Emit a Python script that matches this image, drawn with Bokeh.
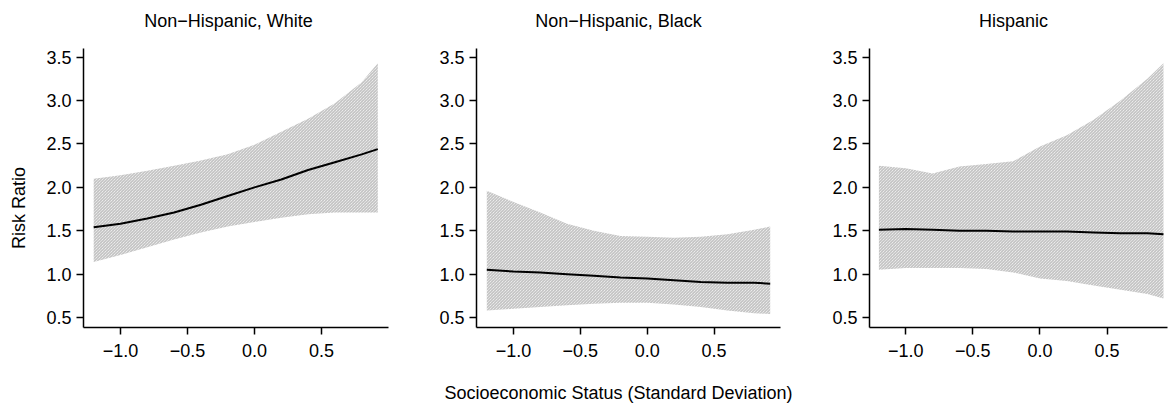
from bokeh.plotting import figure
from bokeh.layouts import row
from bokeh.models import FixedTicker, CustomJSTickFormatter, Range1d, LinearAxis
from bokeh.embed import file_html
from bokeh.resources import INLINE

# ---- data ----
ses = [-1.2, -1.0, -0.8, -0.6, -0.4, -0.2, 0.0, 0.2, 0.4, 0.6, 0.8, 0.92]
panel_titles = ["Non\u2212Hispanic, White", "Non\u2212Hispanic, Black", "Hispanic"]

white_rr = [1.54, 1.58, 1.64, 1.71, 1.80, 1.90, 2.00, 2.09, 2.20, 2.29, 2.38, 2.44]
white_hi = [2.10, 2.14, 2.19, 2.25, 2.31, 2.38, 2.49, 2.64, 2.79, 2.97, 3.21, 3.43]
white_lo = [1.14, 1.22, 1.31, 1.40, 1.48, 1.55, 1.60, 1.65, 1.69, 1.71, 1.71, 1.71]

black_rr = [1.05, 1.03, 1.02, 1.00, 0.98, 0.96, 0.95, 0.93, 0.91, 0.90, 0.90, 0.89]
black_hi = [1.96, 1.83, 1.71, 1.58, 1.50, 1.44, 1.43, 1.42, 1.43, 1.46, 1.51, 1.55]
black_lo = [0.58, 0.60, 0.62, 0.64, 0.66, 0.67, 0.67, 0.65, 0.62, 0.58, 0.55, 0.54]

hisp_rr = [1.51, 1.52, 1.51, 1.50, 1.50, 1.49, 1.49, 1.49, 1.48, 1.47, 1.47, 1.46]
hisp_hi = [2.25, 2.22, 2.16, 2.24, 2.27, 2.30, 2.47, 2.60, 2.78, 3.00, 3.25, 3.43]
hisp_lo = [1.05, 1.07, 1.07, 1.07, 1.06, 1.02, 0.95, 0.92, 0.87, 0.82, 0.77, 0.72]

x_ticks = [-1.0, -0.5, 0.0, 0.5]
y_ticks = [0.5, 1.0, 1.5, 2.0, 2.5, 3.0, 3.5]
y_label = "Risk Ratio"
x_label = "Socioeconomic Status (Standard Deviation)"

FONT = "Liberation Sans"
FS = "18px"
NB = "\u00a0"

series = [(white_rr, white_hi, white_lo), (black_rr, black_hi, black_lo), (hisp_rr, hisp_hi, hisp_lo)]
layouts = [  # (min_border_left, frame_width, min_border_right, x_start, x_end, title_pad)
    (83, 305, 12, -1.276, 1.0, 3),
    (76, 304, 40, -1.277, 0.997, 4),
    (49, 298, 2, -1.27, 0.95, 2),
]

fmt = CustomJSTickFormatter(code="return tick.toFixed(1).replace('-', '\u2212');")

figs = []
for i, ((rr, hi, lo), (bl, fw, br, xs, xe, tpad)) in enumerate(zip(series, layouts)):
    p = figure(output_backend="svg", toolbar_location=None,
               frame_width=fw, frame_height=279,
               min_border_left=bl, min_border_right=br,
               min_border_top=48, min_border_bottom=82,
               x_range=Range1d(xs, xe), y_range=Range1d(0.385, 3.6))
    p.outline_line_color = None
    p.grid.visible = False
    p.background_fill_color = "white"
    p.border_fill_color = "white"

    p.varea(x=ses, y1=lo, y2=hi, fill_alpha=0,
            hatch_pattern="left_diagonal_line", hatch_color="#b4b4b4",
            hatch_scale=3, hatch_weight=1)
    p.line(x=ses, y=rr, line_color="black", line_width=2)

    xax = p.xaxis[0]
    yax = p.yaxis[0]
    for ax in (xax, yax):
        ax.axis_line_color = "black"
        ax.axis_line_width = 1.5
        ax.major_tick_line_color = "black"
        ax.major_tick_line_width = 1.5
        ax.major_tick_out = 7
        ax.major_tick_in = 0
        ax.minor_tick_line_color = None
        ax.major_label_text_font = FONT
        ax.major_label_text_font_size = FS
        ax.major_label_text_color = "black"
        ax.axis_label_text_font = FONT
        ax.axis_label_text_font_size = FS
        ax.axis_label_text_font_style = "normal"
        ax.axis_label_text_color = "black"
        ax.formatter = fmt
    xax.ticker = FixedTicker(ticks=x_ticks)
    yax.ticker = FixedTicker(ticks=y_ticks)
    xax.major_label_standoff = 9
    yax.major_label_standoff = 5

    if i == 0:
        yax.axis_label = y_label + NB * 8
        yax.axis_label_standoff = 14
    if i == 1:
        xax.axis_label = x_label + NB * 4
        xax.axis_label_standoff = 23

    # panel title drawn as the label of a bare axis above the frame
    top = LinearAxis(ticker=FixedTicker(ticks=[]), axis_line_color=None,
                     major_tick_line_color=None, minor_tick_line_color=None,
                     major_tick_out=0, major_tick_in=0, minor_tick_out=0,
                     major_label_standoff=0, major_label_text_font_size="0px",
                     axis_label=panel_titles[i] + NB * tpad,
                     axis_label_standoff=18,
                     axis_label_text_font=FONT, axis_label_text_font_size=FS,
                     axis_label_text_font_style="normal",
                     axis_label_text_color="black")
    p.add_layout(top, "above")
    figs.append(p)

layout = row(*figs, spacing=0)
open("out.html", "w").write(file_html(layout, INLINE))
